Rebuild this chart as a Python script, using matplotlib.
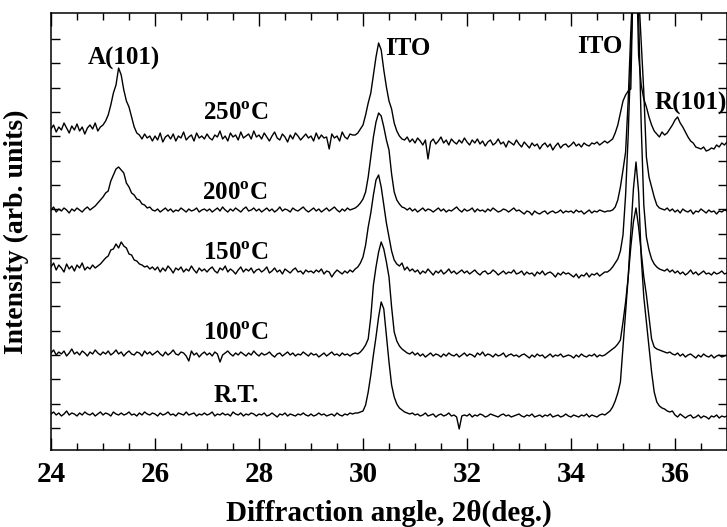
import numpy as np
import matplotlib
matplotlib.use("Agg")
import matplotlib.pyplot as plt
from matplotlib.ticker import MultipleLocator, FixedLocator

plt.rcParams["font.family"] = ["Liberation Serif", "DejaVu Serif"]
plt.rcParams["font.weight"] = "bold"
plt.rcParams["mathtext.fontset"] = "custom"
plt.rcParams["mathtext.rm"] = "Liberation Serif:bold"
plt.rcParams["mathtext.bf"] = "Liberation Serif:bold"

# scan axis, 2theta in degrees (0.05 deg step)
scan_start, scan_stop, scan_step = 24.0, 37.0, 0.05

# intensities (arb. units), one row per degree
rt_counts = (
    [3, 5, 2, 4, 1, 3, 6, 2, 4, 3, 1, 4, 2, 5, 3, 2, 4, 1, 3, 5]
    + [2, 4, 3, 1, 5, 3, 2, 4, 2, 3, 5, 2, 3, 1, 4, 2, 5, 3, 2, 4]
    + [3, 1, 4, 2, 3, 5, 2, 3, 1, 4, 3, 2, 5, 2, 3, 4, 1, 3, 2, 4]
    + [2, 3, 5, 1, 3, 2, 4, 2, 3, 1, 5, 3, 2, 4, 1, 3, 2, 4, 3, 1]
    + [3, 2, 4, 1, 2, 4, 2, 0, 3, 2, 4, 1, 3, 2, 1, 3, 2, 4, 2, 1]
    + [3, 1, 2, 4, 2, 3, 1, 2, 3, 1, 4, 2, 1, 3, 2, 4, 3, 4, 4, 5]
    + [6, 12, 25, 42, 62, 80, 100, 115, 108, 82, 55, 32, 20, 13, 9, 7, 5, 4, 3, 4]
    + [2, 3, 1, 2, 4, 1, 2, 3, 0, 2, 3, 1, 2, 4, 1, 2, 0, -12, 1, 2]
    + [1, 3, 0, 2, 1, 3, 2, 0, 1, 3, 2, 1, 0, 2, 3, 1, 2, 0, 1, 2]
    + [3, 1, 0, 2, 1, 3, 0, 1, 2, 0, 2, 1, 3, 0, 1, 2, 0, 1, 3, 1]
    + [0, 2, 1, 0, 2, 1, 3, 0, 2, 1, 0, 2, 3, 2, 4, 6, 10, 16, 24, 35]
    + [70, 105, 140, 185, 228, 255, 225, 160, 120, 95, 70, 45, 25, 15, 11, 9, 8, 6, 5, 6]
    + [2, 0, 3, 1, -1, 1, 2, -1, 0, 2, -1, 1, 0, -2, 1, 0, 2, -1, 1, 0]
    + [1]
)

c100_counts = (
    [4, 7, 2, 5, 3, 6, 1, 4, 8, 3, 5, 2, 6, 4, 1, 5, 3, 7, 4, 2]
    + [5, 3, 6, 2, 4, 7, 3, 5, 1, 4, 6, 3, 2, 5, 4, 1, 6, 3, 5, 2]
    + [4, 6, 3, 1, 5, 2, 4, 7, 3, 2, 5, 4, 1, -4, 6, 2, 4, 0, 3, 5]
    + [2, 4, 1, 5, 3, -5, 2, 4, 6, 3, 1, 4, 2, 5, 3, 1, 4, 2, 6, 3]
    + [1, 4, 2, 3, 5, 2, 0, 3, 4, 1, 3, 5, 2, 4, 1, 3, 2, 5, 3, 1]
    + [4, 2, 3, 0, 2, 4, 1, 3, 5, 2, 3, 1, 4, 2, 3, 1, 3, 4, 3, 5]
    + [8, 12, 18, 40, 72, 90, 105, 115, 108, 95, 80, 50, 25, 16, 11, 8, 6, 4, 3, 5]
    + [2, 4, 1, 3, 0, 2, 4, 1, 3, 2, 0, 3, 1, 4, 2, 1, 3, 0, 2, 4]
    + [1, 3, 2, 0, 4, 2, 5, 1, 3, 2, 0, 3, 1, 2, 4, 0, 2, 3, 1, 2]
    + [0, 2, 3, 1, -1, 2, 0, 3, 1, 2, -1, 1, 3, 0, 2, 1, 3, 0, 1, 2]
    + [1, -1, 2, 0, 3, 1, 0, 2, 1, 3, 0, 2, 1, 2, 4, 6, 8, 10, 13, 17]
    + [35, 55, 80, 110, 135, 149, 130, 105, 80, 62, 40, 18, 10, 8, 7, 6, 5, 4, 5, 3]
    + [2, 4, 1, 3, 0, 2, 3, 1, -1, 2, 0, 3, 1, 0, 2, -1, 1, 2, 0, 1]
    + [2]
)

c150_counts = (
    [8, 12, 5, 10, 7, 3, 11, 6, 9, 4, 10, 7, 12, 5, 8, 6, 10, 7, 9, 11]
    + [14, 17, 19, 25, 26, 31, 27, 33, 29, 27, 21, 20, 15, 14, 11, 10, 8, 9, 6, 8]
    + [5, 8, 3, 7, 4, 9, 6, 2, 7, 5, 8, 3, 6, 4, 9, 5, 2, 7, 4, 6]
    + [3, 6, 8, 4, 2, 7, 5, 9, 3, 6, 4, 1, 5, 8, 3, 6, 4, 7, 2, 5]
    + [6, 3, 5, 8, 2, 4, 7, 3, 5, 1, 6, 4, 2, 5, 7, 3, 4, 1, 5, 3]
    + [4, 2, 5, 3, 6, 1, 4, 3, -2, 2, 5, 3, 1, 4, 2, 5, 3, 6, 8, 12]
    + [18, 30, 48, 62, 80, 95, 100, 88, 70, 52, 38, 24, 15, 11, 9, 12, 5, 8, 4, 6]
    + [3, 5, 1, 4, 2, 6, 3, 0, 4, 2, 5, 1, 3, 6, 2, 4, 1, 3, 5, 2]
    + [4, 1, 3, 5, 2, 0, 3, 4, 1, 2, 5, 3, 0, 2, 4, 1, 3, 2, 5, 1]
    + [2, 4, 0, 3, 1, 2, -1, 3, 1, 4, 0, 2, 3, 1, -2, 2, 0, 3, 1, 2]
    + [0, -2, 1, -3, 0, -1, 2, -2, 1, 0, 2, -1, 1, 3, 3, 5, 8, 12, 16, 24]
    + [40, 80, 140, 220, 290, 300, 260, 150, 70, 38, 25, 16, 11, 8, 6, 5, 4, 6, 3, 5]
    + [2, 4, 1, 3, 0, 2, 5, 1, 3, 0, 2, 4, 1, 2, 0, 3, 1, 2, 4, 1]
    + [2]
)

c200_counts = (
    [2, 5, 0, 3, 1, 4, 2, -1, 3, 1, 4, 2, 0, 3, 5, 2, 4, 6, 9, 12]
    + [15, 19, 21, 31, 37, 43, 45, 42, 39, 29, 25, 19, 17, 13, 12, 8, 7, 4, 5, 2]
    + [1, 3, 0, 2, 4, 1, 3, 0, 2, 1, 4, 2, 0, 3, 1, 2, 4, 0, 2, 3]
    + [1, 3, 0, 2, 4, 1, 5, 2, 0, 3, 1, 4, 2, 0, 3, 5, 1, 2, 4, 1]
    + [3, 0, 2, 4, 1, 3, 0, 2, 5, 1, 3, 2, 0, 4, 2, 1, 3, 5, 2, 0]
    + [2, 4, 1, 3, 0, 2, 4, 1, 3, 5, 2, 0, 3, 1, 4, 2, 3, 4, 6, 9]
    + [13, 20, 35, 55, 75, 90, 99, 96, 85, 72, 62, 38, 20, 12, 8, 5, 4, 2, 4, 1]
    + [3, 0, 2, 4, 1, 3, 2, 0, 2, 4, 1, 3, 0, 2, 1, 3, 5, 2, 0, 3]
    + [1, 2, 4, 0, 3, 1, 2, 0, 3, 1, 4, 2, 0, 1, 3, 2, 0, 2, 4, 1]
    + [2, 0, -2, 1, 0, -3, 1, -1, -2, 0, 1, -2, 0, 1, -1, 0, 2, -1, 1, 0]
    + [1, -1, 2, 0, 1, -2, 0, 2, -1, 1, 0, 2, 1, 0, 1, 1, 2, 5, 12, 25]
    + [42, 60, 112, 180, 240, 250, 220, 170, 120, 55, 35, 25, 15, 7, 4, 3, 2, 4, 1, 3]
    + [0, 2, -1, 3, 1, 0, 2, -2, 1, 0, 3, 1, -1, 2, 0, 1, -2, 1, 0, 2]
    + [1]
)

c250_counts = (
    [16, 20, 13, 18, 15, 22, 17, 12, 19, 15, 21, 14, 18, 11, 17, 20, 16, 22, 14, 18]
    + [20, 24, 30, 40, 52, 60, 77, 70, 55, 44, 38, 28, 18, 12, 10, 6, 11, 7, 9, 4]
    + [9, 5, 12, 3, 8, 10, 6, 11, 4, 9, 7, 13, 5, 8, 10, 4, 12, 7, 9, 6]
    + [11, 7, 5, 10, 8, 14, 6, 9, 4, 12, 8, 10, 5, 13, 7, 9, 11, 6, 14, 8]
    + [10, 6, 12, 8, 4, 9, 13, 7, 5, 11, 8, 3, 10, 6, 12, 9, 5, 8, 11, 7]
    + [9, 4, 12, 6, 10, 7, 8, -4, 11, 7, 9, 4, 13, 8, 6, 11, 10, 10, 12, 16]
    + [20, 30, 42, 52, 70, 88, 102, 95, 75, 58, 44, 36, 22, 14, 9, 6, 5, 8, 3, 6]
    + [2, 7, 4, 0, 5, -14, 3, 6, 1, 4, 8, 2, 5, 0, 6, 3, 1, 5, 2, 7]
    + [3, 0, 5, 2, 6, 1, 4, -1, 3, 5, 0, 2, 6, 1, 3, -2, 4, 2, 0, 5]
    + [1, -2, 3, 0, -3, 2, -1, 1, -4, 0, 2, -2, 1, -5, -1, 2, -3, 0, 1, -2]
    + [0, 3, -1, 1, -2, 2, 0, -1, 2, 1, 3, 0, 2, 4, 2, 4, 6, 12, 20, 32]
    + [44, 50, 54, 56, 180, 200, 90, 60, 46, 38, 28, 20, 14, 11, 8, 13, 10, 12, 16, 20]
    + [25, 28, 22, 18, 13, 8, 4, 2, -2, -3, -4, -2, -6, -5, -3, -4, 0, -2, 2, 0]
    + [3]
)

temperatures = ["250", "200", "150", "100", "R.T."]
trace_offsets = [305, 238, 175, 93, 33]

two_theta = np.arange(scan_start, scan_stop + scan_step / 2, scan_step)
traces = [c250_counts, c200_counts, c150_counts, c100_counts, rt_counts]

fig = plt.figure(figsize=(7.27, 5.27), dpi=100)
ax = fig.add_axes([51 / 727, 1 - 450 / 527, 676 / 727, 437 / 527])

for counts, off in zip(traces, trace_offsets):
    ax.plot(two_theta, np.asarray(counts) + off, color="black", lw=1.0)

ax.set_xlim(24, 37)
ax.set_ylim(0, 437)

# temperature labels
label_pos = [(26.93, 330), (26.90, 250), (26.93, 190), (26.93, 110), (27.12, 48)]
for t, (lx, ly) in zip(temperatures, label_pos):
    txt = t if t == "R.T." else t + r"$^{\rm o}$C"
    ax.text(lx, ly, txt, fontsize=18, fontweight="bold", va="baseline", ha="left")

# peak labels
ax.text(24.71, 385, "A(101)", fontsize=18, fontweight="bold", va="baseline")
ax.text(30.42, 395, "ITO", fontsize=18, fontweight="bold", va="baseline")
ax.text(34.12, 397, "ITO", fontsize=18, fontweight="bold", va="baseline")
ax.text(35.60, 340, "R(101)", fontsize=18, fontweight="bold", va="baseline")

ax.xaxis.set_major_locator(MultipleLocator(2))
ax.xaxis.set_minor_locator(MultipleLocator(0.5))
ax.yaxis.set_major_locator(FixedLocator(np.arange(22, 420, 24.31)))
ax.set_yticklabels([])
ax.tick_params(axis="x", which="major", direction="in", length=9, width=1,
               top=True, labelsize=21, pad=8)
ax.tick_params(axis="x", which="minor", direction="in", length=5, width=1, top=True)
ax.tick_params(axis="y", which="major", direction="in", length=6.5, width=1, right=True)
for lab in ax.get_xticklabels():
    lab.set_fontweight("bold")
for sp in ax.spines.values():
    sp.set_linewidth(1.1)

ax.set_xlabel("Diffraction angle, 2\u03b8(deg.)", fontsize=21, fontweight="bold", labelpad=8)
ax.set_ylabel("Intensity (arb. units)", fontsize=20, fontweight="bold", labelpad=12)

fig.savefig("out.png", dpi=100)
